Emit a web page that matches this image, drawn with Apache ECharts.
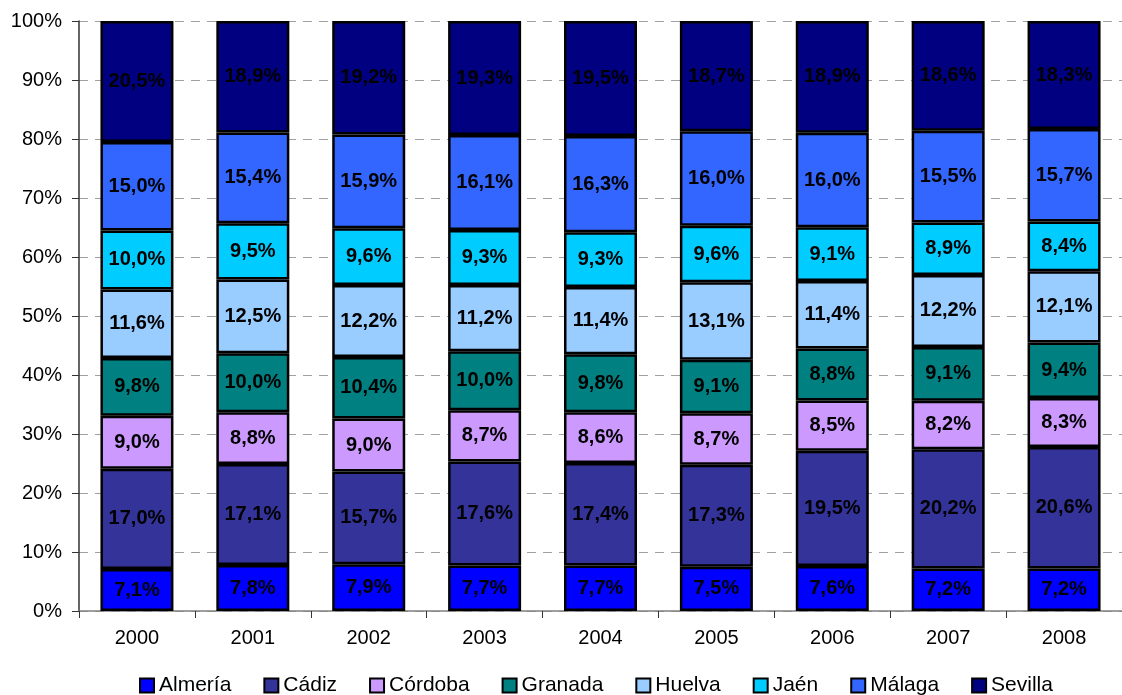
<!DOCTYPE html>
<html>
<head>
<meta charset="utf-8">
<script src="https://cdn.jsdelivr.net/npm/echarts@6/dist/echarts.min.js"></script>
<style>
  html, body { margin: 0; padding: 0; background: #fff; }
  #chart { width: 1122px; height: 695px; }
</style>
</head>
<body>
<div id="chart"></div>
<script>
  var years = ['2000', '2001', '2002', '2003', '2004', '2005', '2006', '2007', '2008']
  var provinces = ['Almería', 'Cádiz', 'Córdoba', 'Granada', 'Huelva', 'Jaén', 'Málaga', 'Sevilla']
  var colors = ['#0000FF', '#333399', '#CC99FF', '#008080', '#99CCFF', '#00CCFF', '#3366FF', '#000080']

  var almeria = [7.1, 7.8, 7.9, 7.7, 7.7, 7.5, 7.6, 7.2, 7.2]
  var cadiz = [17.0, 17.1, 15.7, 17.6, 17.4, 17.3, 19.5, 20.2, 20.6]
  var cordoba = [9.0, 8.8, 9.0, 8.7, 8.6, 8.7, 8.5, 8.2, 8.3]
  var granada = [9.8, 10.0, 10.4, 10.0, 9.8, 9.1, 8.8, 9.1, 9.4]
  var huelva = [11.6, 12.5, 12.2, 11.2, 11.4, 13.1, 11.4, 12.2, 12.1]
  var jaen = [10.0, 9.5, 9.6, 9.3, 9.3, 9.6, 9.1, 8.9, 8.4]
  var malaga = [15.0, 15.4, 15.9, 16.1, 16.3, 16.0, 16.0, 15.5, 15.7]
  var sevilla = [20.5, 18.9, 19.2, 19.3, 19.5, 18.7, 18.9, 18.6, 18.3]

  var seriesValues = [almeria, cadiz, cordoba, granada, huelva, jaen, malaga, sevilla]

  var font = 'Liberation Sans, Arial, sans-serif'

  // 100% apilado: cada año se escala para llegar al 100%
  var totals = years.map(function (y, j) {
    var s = 0
    for (var k = 0; k < seriesValues.length; k++) s += seriesValues[k][j]
    return s
  })

  var series = []
  for (var i = 0; i < provinces.length; i++) {
    series.push({
      name: provinces[i],
      type: 'bar',
      stack: 'total',
      barWidth: 73,
      data: seriesValues[i].map(function (v, j) {
        return { value: v / totals[j] * 100, raw: v }
      }),
      itemStyle: { color: colors[i], borderColor: '#000', borderWidth: 2.5 },
      label: {
        show: true,
        position: 'inside',
        color: '#000',
        fontFamily: font,
        fontWeight: 'bold',
        fontSize: 20,
        formatter: function (p) {
          return p.data.raw.toFixed(1).replace('.', ',') + '%'
        }
      }
    })
  }

  var chart = echarts.init(document.getElementById('chart'))
  chart.setOption({
    animation: false,
    color: colors,
    grid: { left: 79, width: 1051, top: 21, height: 590 },
    legend: {
      top: 675,
      left: 139,
      padding: 0,
      itemWidth: 14,
      itemHeight: 14,
      itemGap: 32,
      icon: 'rect',
      itemStyle: { borderColor: '#000', borderWidth: 2 },
      textStyle: { fontFamily: font, fontSize: 21, color: '#000', padding: [0, 0, 0, 0] },
      data: provinces
    },
    xAxis: {
      type: 'category',
      data: years,
      axisLine: { lineStyle: { color: '#808080', width: 1.5 } },
      axisTick: { show: true, length: 7, lineStyle: { color: '#333' } },
      axisLabel: { fontFamily: font, fontSize: 20, color: '#000', margin: 17 }
    },
    yAxis: {
      type: 'value',
      min: 0,
      max: 100,
      interval: 10,
      axisLine: { show: true, lineStyle: { color: '#333', width: 1.5 } },
      axisTick: { show: true, length: 7, lineStyle: { color: '#333' } },
      axisLabel: { fontFamily: font, fontSize: 20, color: '#000', margin: 17, formatter: '{value}%' },
      splitLine: { lineStyle: { color: '#a0a0a0', type: [9, 7], width: 1 } }
    },
    series: series
  })
</script>
</body>
</html>
